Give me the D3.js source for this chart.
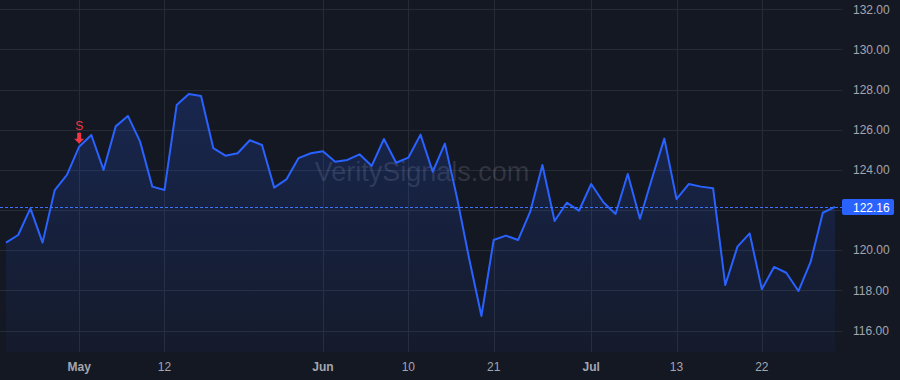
<!DOCTYPE html>
<html>
<head>
<meta charset="utf-8">
<script src="https://cdn.jsdelivr.net/npm/d3@7"></script>
<style>
    html, body { margin: 0; padding: 0; background: #141823; }
    svg { display: block; font-family: "Liberation Sans", Arial, sans-serif; }
</style>
</head>
<body>
<svg id="chart" width="900" height="380"></svg>
<script>
// daily closes, one per trading bar
const closes = [
    120.38, 120.76, 122.09, 120.38, 123.00, 123.75, 125.16, 125.74, 124.00, 126.17,
    126.69, 125.41, 123.17, 123.00, 127.23, 127.78, 127.68, 125.09, 124.71, 124.83,
    125.48, 125.24, 123.12, 123.53, 124.59, 124.83, 124.93, 124.41, 124.50, 124.78,
    124.20, 125.54, 124.36, 124.61, 125.76, 123.91, 125.31, 122.60, 119.55, 116.73,
    120.51, 120.73, 120.51, 121.92, 124.25, 121.46, 122.37, 121.97, 123.30, 122.39,
    121.81, 123.80, 121.57, 123.60, 125.56, 122.55, 123.30, 123.17, 123.09, 118.27,
    120.18, 120.84, 118.06, 119.17, 118.88, 117.97, 119.42, 121.87, 122.16
];
const timeTickBars = [6, 13, 26, 33, 40, 48, 55, 62];
const timeTickLabels = ['May', '12', 'Jun', '10', '21', 'Jul', '13', '22'];
const monthLabels = ['May', 'Jun', 'Jul'];
const priceTicks = [116, 118, 120, 122, 124, 126, 128, 130, 132];
const signalBar = 6;
const signalLabel = 'S';
const watermark = 'VeritySignals.com';

const W = 900, H = 380;
const plotRight = 842, plotBottom = 352;
const lineColor = '#2962ff';

const svg = d3.select('#chart');
const x = d3.scaleLinear().domain([0, closes.length - 1]).range([6, 835]);
const y = d3.scaleLinear().domain([116, 132]).range([330.6, 9.3]);

const defs = svg.append('defs');
const grad = defs.append('linearGradient')
    .attr('id', 'fillGrad').attr('x1', 0).attr('x2', 0).attr('y1', 0).attr('y2', 1);
grad.append('stop').attr('offset', '0%').attr('stop-color', lineColor).attr('stop-opacity', 0.2);
grad.append('stop').attr('offset', '100%').attr('stop-color', lineColor).attr('stop-opacity', 0.04);

svg.append('rect').attr('width', W).attr('height', H).attr('fill', '#141823');

// grid
svg.append('g').selectAll('line').data(priceTicks).join('line')
    .attr('x1', 0).attr('x2', plotRight)
    .attr('y1', d => Math.round(y(d)) + 0.5).attr('y2', d => Math.round(y(d)) + 0.5)
    .attr('stroke', '#272b36').attr('stroke-width', 1);
svg.append('g').selectAll('line').data(timeTickBars).join('line')
    .attr('x1', d => Math.round(x(d)) + 0.5).attr('x2', d => Math.round(x(d)) + 0.5)
    .attr('y1', 0).attr('y2', plotBottom)
    .attr('stroke', '#272b36').attr('stroke-width', 1);

// watermark
svg.append('text')
    .attr('x', 422).attr('y', 181)
    .attr('text-anchor', 'middle')
    .attr('font-size', 27)
    .attr('fill', '#ffffff').attr('fill-opacity', 0.13)
    .text(watermark);

// area + line
const area = d3.area()
    .x((d, i) => x(i)).y0(plotBottom).y1(d => y(d));
const line = d3.line()
    .x((d, i) => x(i)).y(d => y(d));

svg.append('path').datum(closes).attr('d', area).attr('fill', 'url(#fillGrad)');
svg.append('path').datum(closes).attr('d', line)
    .attr('fill', 'none').attr('stroke', lineColor).attr('stroke-width', 2)
    .attr('stroke-linejoin', 'round');

// last price line
const last = closes[closes.length - 1];
const lastY = Math.round(y(last)) + 0.5;
svg.append('line')
    .attr('x1', 0).attr('x2', plotRight).attr('y1', lastY).attr('y2', lastY)
    .attr('stroke', '#3a74ff').attr('stroke-width', 1.2).attr('stroke-dasharray', '3,2')
    .attr('shape-rendering', 'crispEdges');

// sell signal marker
const sx = x(signalBar), sy = y(closes[signalBar]);
svg.append('text')
    .attr('x', sx).attr('y', sy - 17)
    .attr('text-anchor', 'middle')
    .attr('font-size', 12)
    .attr('fill', '#f23645')
    .text(signalLabel);
svg.append('path')
    .attr('d', `M${sx - 2},${sy - 14} L${sx + 2},${sy - 14} L${sx + 2},${sy - 8} L${sx + 5},${sy - 8} L${sx},${sy - 3} L${sx - 5},${sy - 8} L${sx - 2},${sy - 8} Z`)
    .attr('fill', '#f23645');

// price axis (labels hidden where the last-price tag covers them)
svg.append('g').selectAll('text')
    .data(priceTicks.filter(d => Math.abs(y(d) - y(last)) > 14))
    .join('text')
    .attr('x', 853).attr('y', d => y(d)).attr('dy', '0.35em')
    .attr('font-size', 12).attr('fill', '#a3a6af')
    .text(d => d.toFixed(2));

svg.append('rect')
    .attr('x', 842).attr('y', lastY - 8.5).attr('width', 52).attr('height', 16)
    .attr('rx', 2).attr('fill', lineColor);
svg.append('text')
    .attr('x', 853).attr('y', lastY).attr('dy', '0.35em')
    .attr('font-size', 12).attr('fill', '#ffffff')
    .text(last.toFixed(2));

// time axis
svg.append('g').selectAll('text').data(timeTickBars).join('text')
    .attr('x', d => x(d)).attr('y', 367).attr('dy', '0.35em')
    .attr('text-anchor', 'middle')
    .attr('font-size', 12)
    .attr('font-weight', (d, i) => monthLabels.includes(timeTickLabels[i]) ? 'bold' : 'normal')
    .attr('fill', '#a3a6af')
    .text((d, i) => timeTickLabels[i]);
</script>
</body>
</html>
